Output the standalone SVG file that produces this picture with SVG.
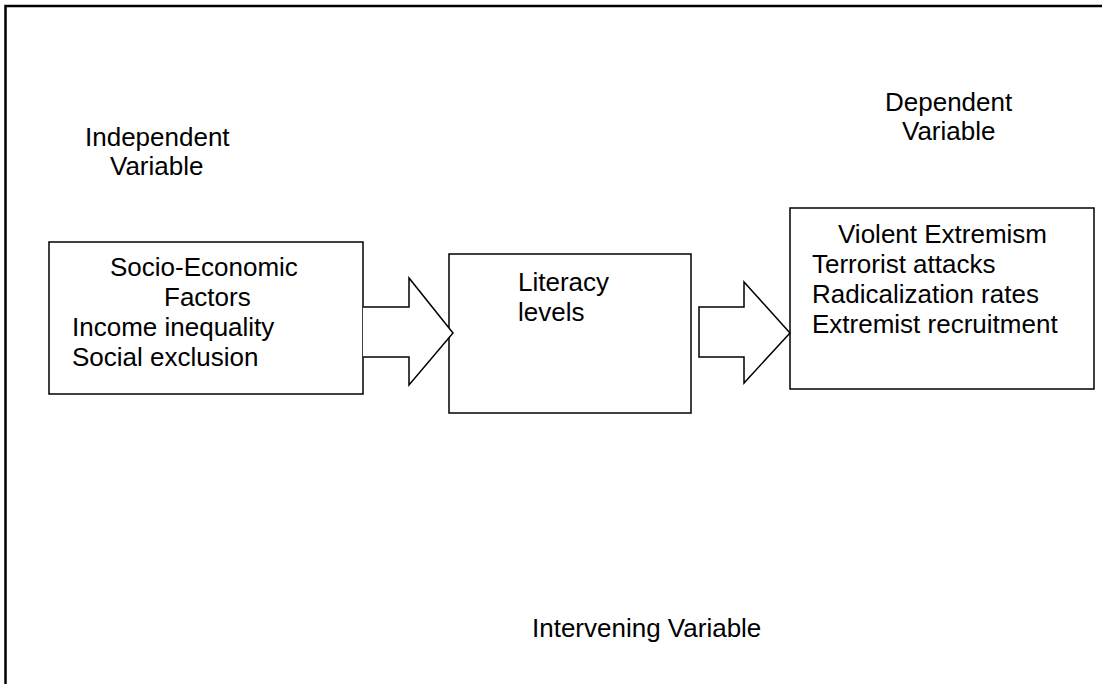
<svg xmlns="http://www.w3.org/2000/svg" width="1102" height="684" viewBox="0 0 1102 684">
<style>
text{font-family:"Liberation Sans",Arial,sans-serif;font-size:26px;fill:#000}
.box{fill:#fff;stroke:#000;stroke-width:1.5}
.arrow{fill:#fff;stroke:#000;stroke-width:1.5;stroke-linejoin:miter}
</style>
<rect x="0" y="0" width="1102" height="684" fill="#fff"/>
<g id="frame">
<path d="M5.5,690 L5.5,6 L1110,6" fill="none" stroke="#000" stroke-width="2.5"/>
</g>
<g id="labels">
<text x="85" y="146">Independent</text>
<text x="110" y="175">Variable</text>
<text x="885" y="111">Dependent</text>
<text x="902" y="140">Variable</text>
<text x="532" y="637">Intervening Variable</text>
</g>
<g id="node-socio">
<rect class="box" x="49" y="242" width="314" height="152"/>
<text x="110" y="276">Socio-Economic</text>
<text x="164" y="306">Factors</text>
<text x="72" y="336">Income inequality</text>
<text x="72" y="366">Social exclusion</text>
</g>
<g id="node-literacy">
<rect class="box" x="449" y="254" width="242" height="159"/>
<text x="518" y="291">Literacy</text>
<text x="518" y="321">levels</text>
</g>
<g id="node-violent">
<rect class="box" x="790" y="208" width="304" height="181"/>
<text x="838" y="243">Violent Extremism</text>
<text x="812" y="273">Terrorist attacks</text>
<text x="812" y="303">Radicalization rates</text>
<text x="812" y="333">Extremist recruitment</text>
</g>
<g id="connectors">
<path class="arrow" d="M363,307 L409,307 L409,278 L453,333 L409,385 L409,357 L363,357"/>
<path class="arrow" d="M699,307 L744,307 L744,282 L790,333 L744,383 L744,357 L699,357 Z"/>
</g>
</svg>
